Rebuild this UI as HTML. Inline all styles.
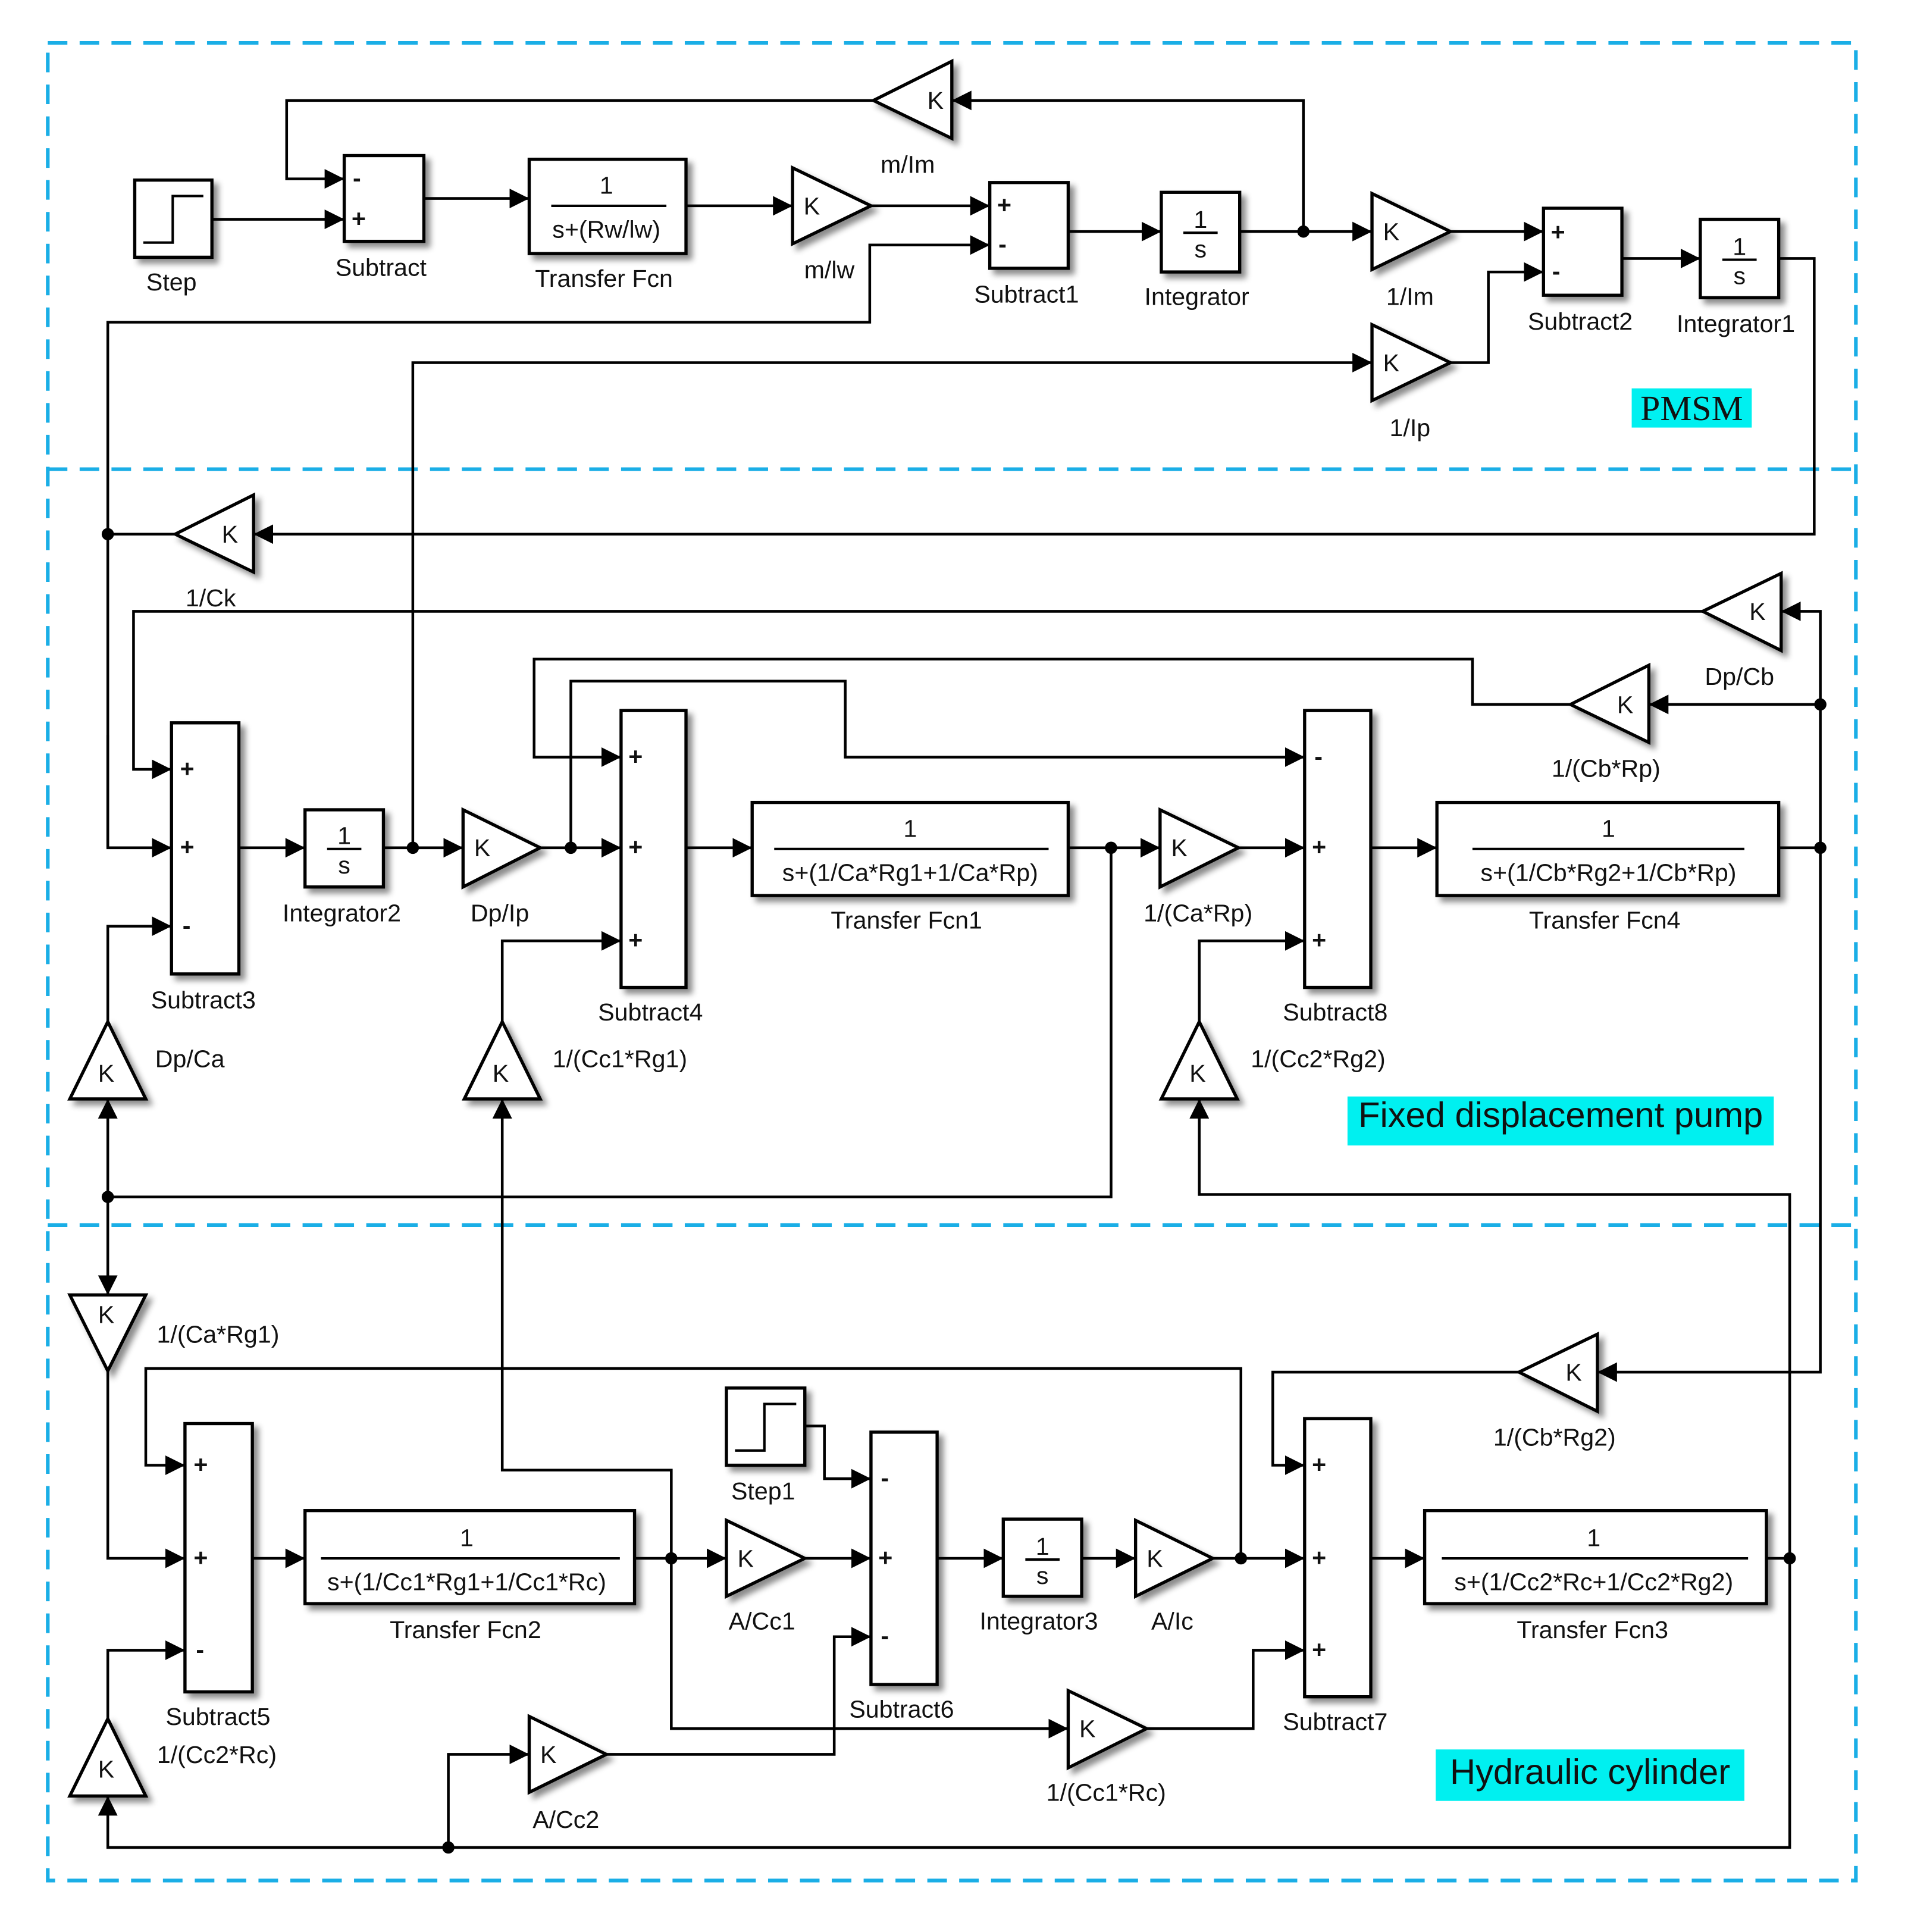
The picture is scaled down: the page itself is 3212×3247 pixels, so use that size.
<!DOCTYPE html>
<html><head><meta charset="utf-8"><style>
html,body{margin:0;padding:0;background:#fff}
svg{display:block}
text{font-family:"Liberation Sans",Arial,sans-serif;font-size:20px;fill:#111}
.l{fill:none;stroke:#000;stroke-width:2.2}
.b{fill:#fff;stroke:#000;stroke-width:2.6;filter:url(#sh)}
.s{font-size:15px;font-weight:bold}
</style></head><body>
<svg width="3212" height="3247" viewBox="0 0 1560 1577" preserveAspectRatio="none" xmlns="http://www.w3.org/2000/svg">
<defs>
<marker id="a" viewBox="0 0 10 10" refX="10" refY="5" markerWidth="16" markerHeight="16" markerUnits="userSpaceOnUse" orient="auto"><path d="M0,0L10,5L0,10z" fill="#000"/></marker>
<filter id="sh" x="-20%" y="-20%" width="150%" height="150%"><feDropShadow dx="4" dy="4" stdDeviation="2.5" flood-color="#000" flood-opacity="0.45"/></filter>
</defs>
<!-- dashed frames -->
<g fill="none" stroke="#1aaee6" stroke-width="3" stroke-dasharray="16 10">
<rect x="39" y="35" width="1476" height="1500"/>
<line x1="39" y1="383" x2="1515" y2="383"/>
<line x1="39" y1="1000" x2="1515" y2="1000"/>
</g>
<!-- connectors -->
<g class="l" marker-end="url(#a)">
<polyline points="173,179 281,179"/>
<polyline points="713,82 234,82 234,146 281,146"/>
<polyline points="346,162 432,162"/>
<polyline points="560,168 647,168"/>
<polyline points="711,168 808,168"/>
<polyline points="88,692 88,263 710,263 710,200 808,200" marker-end="none"/>
<polyline points="88,600 88,692 140,692"/>
<polyline points="872,189 948,189"/>
<polyline points="1012,189 1120,189"/>
<polyline points="1064,189 1064,82 777,82"/>
<polyline points="1184,189 1260,189"/>
<polyline points="1184,296 1215,296 1215,222 1260,222"/>
<polyline points="337,692 337,296 1120,296"/>
<polyline points="1324,211 1388,211"/>
<polyline points="1452,211 1481,211 1481,436 207,436"/>
<polyline points="143,436 88,436" marker-end="none"/>
<polyline points="710,200 808,200"/>
<polyline points="1486,692 1486,499 1454,499"/>
<polyline points="1390,499 109,499 109,628 140,628"/>
<polyline points="1486,575 1346,575"/>
<polyline points="1282,575 1202,575 1202,538 436,538 436,618 507,618"/>
<polyline points="195,692 249,692"/>
<polyline points="313,692 378,692"/>
<polyline points="441,692 507,692"/>
<polyline points="466,692 466,556 690,556 690,618 1065,618"/>
<polyline points="410,834 410,768 507,768"/>
<polyline points="560,692 614,692"/>
<polyline points="872,692 947,692"/>
<polyline points="907,692 907,977 88,977" marker-end="none"/>
<polyline points="1011,692 1065,692"/>
<polyline points="979,834 979,768 1065,768"/>
<polyline points="1461,1272 1461,975 979,975 979,897"/>
<polyline points="1119,692 1173,692"/>
<polyline points="1452,692 1486,692 1486,1120 1304,1120"/>
<polyline points="88,834 88,756 140,756"/>
<polyline points="88,977 88,897"/>
<polyline points="88,977 88,1057"/>
<polyline points="88,1119 88,1272 151,1272"/>
<polyline points="1013,1272 1013,1117 119,1117 119,1196 151,1196"/>
<polyline points="88,1403 88,1347 151,1347"/>
<polyline points="1461,1272 1461,1508 88,1508 88,1466"/>
<polyline points="206,1272 249,1272"/>
<polyline points="518,1272 593,1272"/>
<polyline points="548,1272 548,1411 872,1411"/>
<polyline points="548,1272 548,1200 410,1200 410,897"/>
<polyline points="936,1411 1023,1411 1023,1347 1065,1347"/>
<polyline points="657,1164 673,1164 673,1207 711,1207"/>
<polyline points="657,1272 711,1272"/>
<polyline points="366,1508 366,1432 432,1432"/>
<polyline points="495,1432 681,1432 681,1336 711,1336"/>
<polyline points="765,1272 819,1272"/>
<polyline points="883,1272 927,1272"/>
<polyline points="990,1272 1065,1272"/>
<polyline points="1240,1120 1039,1120 1039,1196 1065,1196"/>
<polyline points="1119,1272 1163,1272"/>
<polyline points="1442,1272 1461,1272" marker-end="none"/>
</g>
<!-- junction dots -->
<g fill="#000">
<circle cx="1064" cy="189" r="5"/><circle cx="88" cy="436" r="5"/><circle cx="337" cy="692" r="5"/>
<circle cx="466" cy="692" r="5"/><circle cx="907" cy="692" r="5"/><circle cx="1486" cy="575" r="5"/>
<circle cx="1486" cy="692" r="5"/><circle cx="88" cy="977" r="5"/><circle cx="548" cy="1272" r="5"/>
<circle cx="1013" cy="1272" r="5"/><circle cx="1461" cy="1272" r="5"/><circle cx="366" cy="1508" r="5"/>
</g>
<!-- rect blocks -->
<g>
<rect class="b" x="110" y="147" width="63" height="63"/>
<polyline points="117,198 141,198 141,160 166,160" fill="none" stroke="#000" stroke-width="2"/>
<rect class="b" x="593" y="1133" width="64" height="63"/>
<polyline points="600,1184 624,1184 624,1146 650,1146" fill="none" stroke="#000" stroke-width="2"/>
<rect class="b" x="281" y="127" width="65" height="70"/>
<rect class="b" x="432" y="130" width="128" height="77"/>
<rect class="b" x="808" y="149" width="64" height="70"/>
<rect class="b" x="948" y="157" width="64" height="65"/>
<rect class="b" x="1260" y="170" width="64" height="71"/>
<rect class="b" x="1388" y="179" width="64" height="64"/>
<rect class="b" x="140" y="590" width="55" height="205"/>
<rect class="b" x="249" y="661" width="64" height="63"/>
<rect class="b" x="507" y="580" width="53" height="226"/>
<rect class="b" x="614" y="655" width="258" height="76"/>
<rect class="b" x="1065" y="580" width="54" height="226"/>
<rect class="b" x="1173" y="655" width="279" height="76"/>
<rect class="b" x="151" y="1162" width="55" height="219"/>
<rect class="b" x="249" y="1233" width="269" height="76"/>
<rect class="b" x="711" y="1169" width="54" height="206"/>
<rect class="b" x="819" y="1240" width="64" height="63"/>
<rect class="b" x="1065" y="1158" width="54" height="227"/>
<rect class="b" x="1163" y="1233" width="279" height="76"/>
</g>
<!-- gains -->
<g>
<polygon class="b" points="777,50 777,113 713,82"/>
<polygon class="b" points="647,137 647,199 711,168"/>
<polygon class="b" points="1120,158 1120,220 1184,189"/>
<polygon class="b" points="1120,265 1120,327 1184,296"/>
<polygon class="b" points="207,404 207,467 143,436"/>
<polygon class="b" points="1454,468 1454,531 1390,499"/>
<polygon class="b" points="1346,543 1346,606 1282,575"/>
<polygon class="b" points="378,661 378,724 441,692"/>
<polygon class="b" points="947,661 947,724 1011,692"/>
<polygon class="b" points="57,897 119,897 88,834"/>
<polygon class="b" points="379,897 441,897 410,834"/>
<polygon class="b" points="948,897 1010,897 979,834"/>
<polygon class="b" points="57,1057 119,1057 88,1119"/>
<polygon class="b" points="57,1466 119,1466 88,1403"/>
<polygon class="b" points="593,1241 593,1303 657,1272"/>
<polygon class="b" points="432,1401 432,1463 495,1432"/>
<polygon class="b" points="872,1380 872,1443 936,1411"/>
<polygon class="b" points="927,1241 927,1303 990,1272"/>
<polygon class="b" points="1304,1089 1304,1152 1240,1120"/>
</g>
<g font-size="20">
<text x="757" y="89">K</text><text x="656" y="175">K</text><text x="1129" y="196">K</text>
<text x="1129" y="303">K</text><text x="181" y="443">K</text><text x="1428" y="506">K</text>
<text x="1320" y="582">K</text><text x="387" y="699">K</text><text x="956" y="699">K</text>
<text x="80" y="883">K</text><text x="402" y="883">K</text><text x="971" y="883">K</text>
<text x="80" y="1080">K</text><text x="80" y="1451">K</text><text x="602" y="1279">K</text>
<text x="441" y="1439">K</text><text x="881" y="1418">K</text><text x="936" y="1279">K</text>
<text x="1278" y="1127">K</text>
</g>
<!-- signs -->
<g class="s">
<text x="288" y="152">-</text><text x="287" y="185">+</text>
<text x="814" y="174">+</text><text x="815" y="206">-</text>
<text x="1266" y="196">+</text><text x="1267" y="228">-</text>
<text x="147" y="634">+</text><text x="147" y="698">+</text><text x="149" y="762">-</text>
<text x="513" y="624">+</text><text x="513" y="698">+</text><text x="513" y="774">+</text>
<text x="1073" y="624">-</text><text x="1071" y="698">+</text><text x="1071" y="774">+</text>
<text x="158" y="1202">+</text><text x="158" y="1278">+</text><text x="160" y="1353">-</text>
<text x="719" y="1213">-</text><text x="717" y="1278">+</text><text x="719" y="1342">-</text>
<text x="1071" y="1202">+</text><text x="1071" y="1278">+</text><text x="1071" y="1353">+</text>
</g>
<!-- fractions -->
<g text-anchor="middle" stroke="#000" stroke-width="2">
<line x1="450" y1="168" x2="544" y2="168"/>
<line x1="966" y1="190" x2="994" y2="190"/><line x1="1406" y1="212" x2="1434" y2="212"/>
<line x1="267" y1="693" x2="295" y2="693"/><line x1="837" y1="1273" x2="865" y2="1273"/>
<line x1="632" y1="693" x2="856" y2="693"/><line x1="1202" y1="693" x2="1424" y2="693"/>
<line x1="262" y1="1272" x2="506" y2="1272"/><line x1="1177" y1="1272" x2="1427" y2="1272"/>
</g>
<g text-anchor="middle">
<text x="495" y="158">1</text><text x="495" y="194">s+(Rw/lw)</text>
<text x="980" y="186" font-size="18">1</text><text x="980" y="210" font-size="18">s</text>
<text x="1420" y="208" font-size="18">1</text><text x="1420" y="232" font-size="18">s</text>
<text x="281" y="689" font-size="18">1</text><text x="281" y="713" font-size="18">s</text>
<text x="851" y="1269" font-size="18">1</text><text x="851" y="1293" font-size="18">s</text>
<text x="743" y="683">1</text><text x="743" y="719">s+(1/Ca*Rg1+1/Ca*Rp)</text>
<text x="1313" y="683">1</text><text x="1313" y="719">s+(1/Cb*Rg2+1/Cb*Rp)</text>
<text x="381" y="1262">1</text><text x="381" y="1298">s+(1/Cc1*Rg1+1/Cc1*Rc)</text>
<text x="1301" y="1262">1</text><text x="1301" y="1298">s+(1/Cc2*Rc+1/Cc2*Rg2)</text>
</g>
<!-- labels -->
<g text-anchor="middle">
<text x="140" y="237">Step</text><text x="311" y="225">Subtract</text><text x="493" y="234">Transfer Fcn</text>
<text x="741" y="141">m/Im</text><text x="677" y="227">m/lw</text><text x="838" y="247">Subtract1</text>
<text x="977" y="249">Integrator</text><text x="1151" y="249">1/Im</text><text x="1290" y="269">Subtract2</text>
<text x="1417" y="271">Integrator1</text><text x="1151" y="356">1/Ip</text>
<text x="172" y="495">1/Ck</text><text x="1420" y="559">Dp/Cb</text><text x="1311" y="634">1/(Cb*Rp)</text>
<text x="166" y="823">Subtract3</text><text x="279" y="752">Integrator2</text><text x="408" y="752">Dp/Ip</text>
<text x="531" y="833">Subtract4</text><text x="740" y="758">Transfer Fcn1</text><text x="978" y="752">1/(Ca*Rp)</text>
<text x="1090" y="833">Subtract8</text><text x="1310" y="758">Transfer Fcn4</text>
<text x="155" y="871">Dp/Ca</text><text x="506" y="871">1/(Cc1*Rg1)</text><text x="1076" y="871">1/(Cc2*Rg2)</text>
<text x="178" y="1096">1/(Ca*Rg1)</text><text x="1269" y="1180">1/(Cb*Rg2)</text>
<text x="623" y="1224">Step1</text><text x="178" y="1408">Subtract5</text><text x="380" y="1337">Transfer Fcn2</text>
<text x="622" y="1330">A/Cc1</text><text x="736" y="1402">Subtract6</text><text x="848" y="1330">Integrator3</text>
<text x="957" y="1330">A/Ic</text><text x="1090" y="1412">Subtract7</text><text x="1300" y="1337">Transfer Fcn3</text>
<text x="177" y="1439">1/(Cc2*Rc)</text><text x="462" y="1492">A/Cc2</text><text x="903" y="1470">1/(Cc1*Rc)</text>
</g>
<!-- section labels -->
<rect x="1332" y="317" width="98" height="32" fill="#00f0f0"/>
<text x="1381" y="343" text-anchor="middle" style="font-family:'Liberation Serif',serif;font-size:29px">PMSM</text>
<rect x="1100" y="895" width="348" height="40" fill="#00f0f0"/>
<text x="1274" y="920" text-anchor="middle" style="font-size:29px">Fixed displacement pump</text>
<rect x="1172" y="1428" width="252" height="42" fill="#00f0f0"/>
<text x="1298" y="1456" text-anchor="middle" style="font-size:29px">Hydraulic cylinder</text>
</svg>
</body></html>
